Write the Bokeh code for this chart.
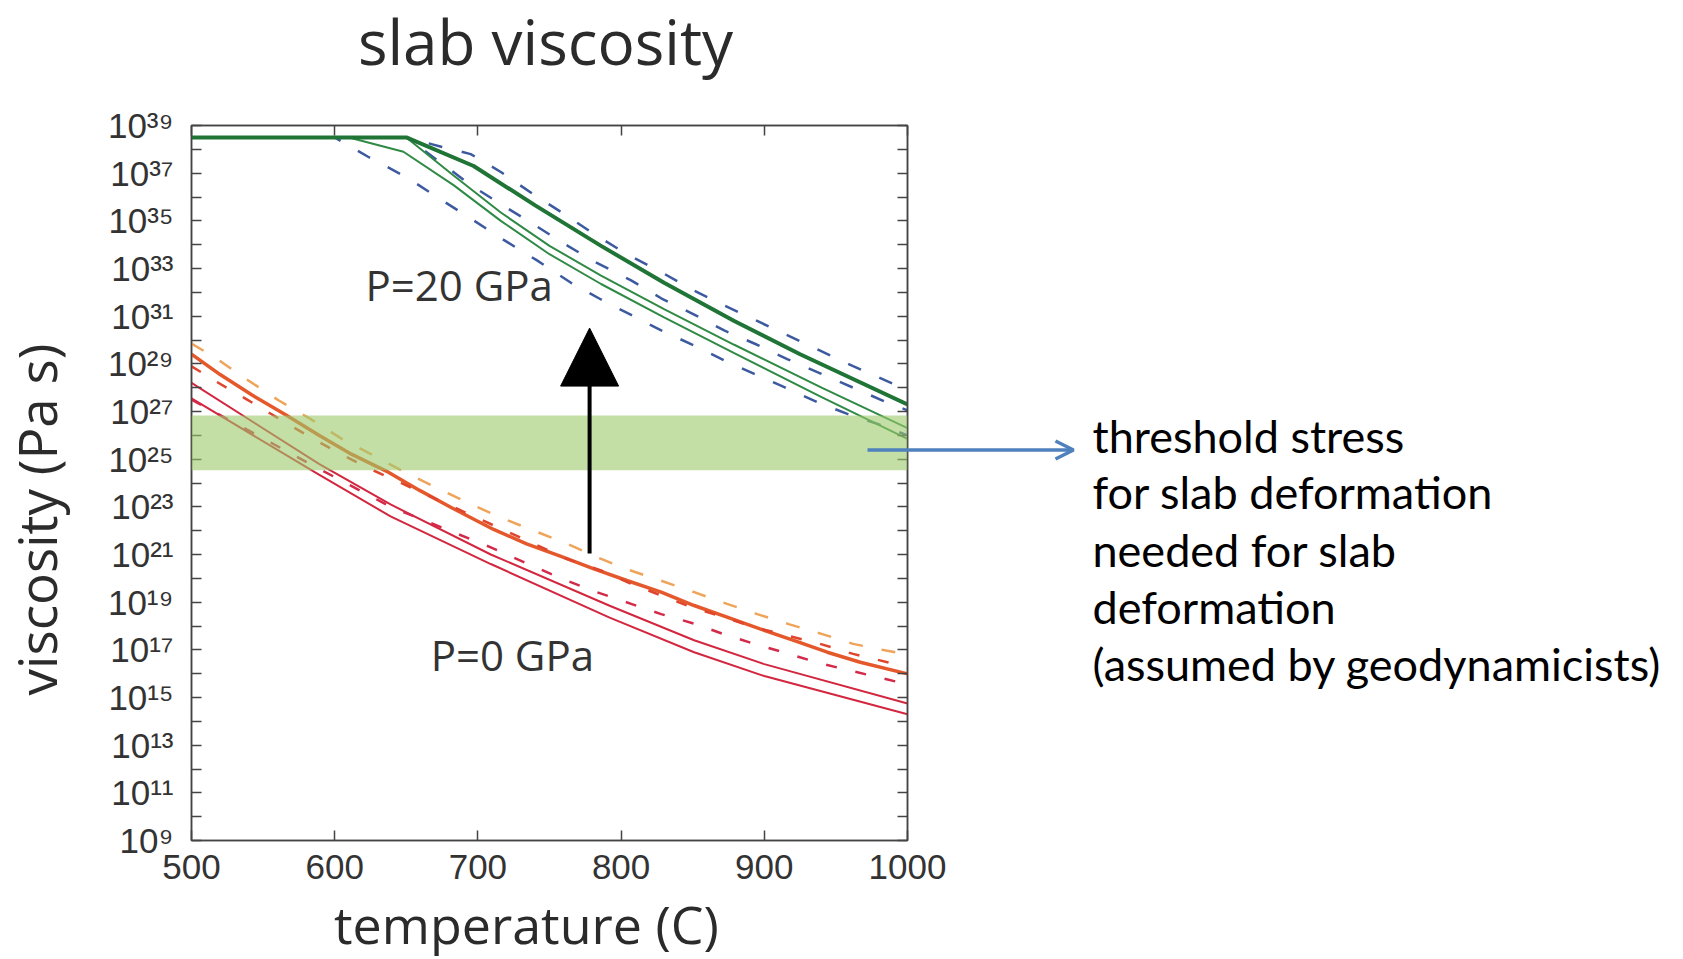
import numpy as np
from bokeh.plotting import figure
from bokeh.layouts import column
from bokeh.models import (FixedTicker, CustomJSTickFormatter, LogAxis, LinearAxis,
                          BoxAnnotation, Arrow, NormalHead, OpenHead, Label, Range1d)
from bokeh.embed import file_html
from bokeh.resources import INLINE

# ---------------- data (temperature in C, log10 viscosity in Pa s) ----------------
# P = 20 GPa group
g1_T = [500, 650, 697, 740, 786, 830, 879, 925, 1000]
g1_E = [38.5, 38.5, 37.3, 35.65, 33.95, 32.4, 30.8, 29.4, 27.3]
g2_T = [500, 650, 683, 716, 750, 786, 830, 879, 940, 1000]
g2_E = [38.5, 38.5, 36.9, 35.35, 33.95, 32.7, 31.3, 29.8, 28.0, 26.3]
g3_T = [500, 610, 648, 683, 716, 750, 786, 830, 879, 940, 1000]
g3_E = [38.5, 38.5, 37.9, 36.5, 35.0, 33.6, 32.35, 30.95, 29.45, 27.6, 25.85]
b1_T = [500, 650, 675, 695, 716, 739, 760, 781, 804, 828, 850, 872, 895, 916, 939, 962, 983, 1000]
b1_E = [38.5, 38.5, 38.1, 37.8, 37.05, 36.1, 35.3, 34.45, 33.6, 32.85, 32.1, 31.45, 30.8, 30.2, 29.55, 28.9, 28.35, 27.9]
b2_T = [500, 650, 675, 695, 716, 739, 760, 781, 807, 828, 850, 872, 895, 916, 939, 962, 983, 1000]
b2_E = [38.5, 38.5, 37.4, 36.5, 35.7, 34.85, 34.05, 33.3, 32.5, 31.75, 31.1, 30.4, 29.8, 29.2, 28.6, 28.0, 27.45, 27.05]
b3_T = [500, 600, 623, 651, 674, 695, 718, 741, 765, 786, 807, 828, 851, 872, 893, 914, 937, 958, 979, 1000]
b3_E = [38.5, 38.5, 37.7, 36.8, 35.9, 35.1, 34.2, 33.35, 32.4, 31.7, 31.05, 30.4, 29.77, 29.14, 28.58, 28.02, 27.39, 26.9, 26.48, 26.0]

# P = 0 GPa group
o1_T = [500, 520, 542, 566, 589, 612, 636, 659, 682, 711, 734, 758, 781, 804, 828, 851, 874, 897, 921, 944, 967, 1000]
o1_E = [29.4, 28.55, 27.7, 26.85, 26.0, 25.2, 24.5, 23.7, 22.95, 22.05, 21.45, 20.92, 20.4, 19.91, 19.42, 18.86, 18.37, 17.88, 17.39, 16.9, 16.48, 15.99]
od1_T = [500, 516, 538, 561, 583, 605, 627, 649, 673, 697, 718, 739, 760, 783, 805, 828, 851, 874, 895, 917, 940, 962, 985, 1000]
od1_E = [29.85, 29.28, 28.37, 27.46, 26.69, 25.85, 25.16, 24.45, 23.75, 23.06, 22.5, 22.0, 21.51, 20.89, 20.36, 19.9, 19.42, 18.93, 18.5, 18.08, 17.67, 17.25, 16.97, 16.8]
rd1_T = [500, 516, 538, 561, 583, 606, 627, 762, 786, 807, 828, 849, 872, 893, 916, 939, 962, 986, 1000]
rd1_E = [28.9, 28.3, 27.53, 26.7, 25.92, 25.16, 24.53, 20.82, 20.33, 19.77, 19.28, 18.79, 18.37, 17.95, 17.6, 17.25, 16.83, 16.48, 16.25]
rd2_T = [500, 589, 639, 709, 737, 758, 783, 807, 828, 851, 872, 893, 916, 938, 962, 983, 1000]
rd2_E = [27.5, 24.6, 23.0, 21.3, 20.55, 20.0, 19.42, 18.93, 18.5, 18.1, 17.65, 17.25, 16.85, 16.45, 16.1, 15.8, 15.55]
r2_T = [500, 589, 639, 709, 792, 851, 900, 1000]
r2_E = [28.2, 24.8, 23.1, 21.0, 18.85, 17.4, 16.4, 14.75]
r3_T = [500, 589, 639, 709, 792, 851, 900, 1000]
r3_E = [27.55, 24.35, 22.6, 20.6, 18.35, 16.9, 15.9, 14.3]

# threshold band (log10 viscosity)
band_low_E = 24.53
band_high_E = 26.83

# axes
x_ticks = [500, 600, 700, 800, 900, 1000]
y_major_E = list(range(9, 40, 2))
y_minor_E = list(range(10, 39, 2))

# text
title_text = "slab viscosity"
x_title = "temperature (C)"
y_title = "viscosity (Pa s)"
label_p20 = "P=20 GPa"
label_p0 = "P=0 GPa"
note_lines = ["threshold stress", "for slab deformation", "needed for slab",
              "deformation", "(assumed by geodynamicists)"]

# annotation anchors inside the axes (data coordinates)
arrow_T, arrow_from_E, arrow_to_E = 778, 21.04, 30.5
p20_pos = (621.5, 32.33)
p0_pos = (667, 16.8)

# annotation anchors on the page (pixel coordinates, from top-left)
W, H = 1683, 959
title_xy = (545, 40)
xtitle_xy = (526, 923)
ytitle_xy = (36, 519)
band_arrow = (867, 1073, 449.5)
note_x = 1092
note_y = [435, 491, 549, 606, 663]

# ---------------- main figure ----------------
p = figure(width=W, height=H, x_range=Range1d(500, 1000), y_range=Range1d(1e9, 1e39),
           y_axis_type="log", output_backend="svg", toolbar_location=None, title=None,
           min_border_left=191, min_border_right=776, min_border_top=125, min_border_bottom=119)
p.background_fill_color = "white"
p.border_fill_color = "white"
p.xgrid.grid_line_color = None
p.ygrid.grid_line_color = None
p.outline_line_color = "#444444"
p.outline_line_width = 1.5

tick_font = "Liberation Sans"
sup_fmt = CustomJSTickFormatter(code="""
const sup = ["\\u2070","\\u00b9","\\u00b2","\\u00b3","\\u2074","\\u2075","\\u2076","\\u2077","\\u2078","\\u2079"];
const e = Math.round(Math.log10(tick));
return "10" + String(e).split("").map((c) => sup[+c]).join("");
""")
blank = CustomJSTickFormatter(code="return '';")

def style_axis(ax, size="35px"):
    ax.axis_line_color = "#444444"
    ax.axis_line_width = 1.5
    ax.major_tick_line_color = "#444444"
    ax.major_tick_line_width = 1.5
    ax.major_tick_in = 10
    ax.major_tick_out = 0
    ax.minor_tick_line_color = "#444444"
    ax.minor_tick_line_width = 1.5
    ax.minor_tick_in = 10
    ax.minor_tick_out = 0
    ax.major_label_text_font = tick_font
    ax.major_label_text_font_size = size
    ax.major_label_text_color = "#333333"

def y_ticker():
    return FixedTicker(ticks=[10.0 ** e for e in y_major_E], minor_ticks=[10.0 ** e for e in y_minor_E])

xa = p.xaxis[0]
xa.ticker = FixedTicker(ticks=x_ticks)
style_axis(xa)
xa.major_label_standoff = 14

ya = p.yaxis[0]
ya.ticker = y_ticker()
ya.formatter = sup_fmt
style_axis(ya)
ya.major_label_standoff = 18

top = LinearAxis(ticker=FixedTicker(ticks=x_ticks), formatter=blank)
style_axis(top, "1px")
top.major_label_standoff = 0
p.add_layout(top, "above")
right = LogAxis(ticker=y_ticker(), formatter=blank)
style_axis(right, "1px")
right.major_label_standoff = 0
p.add_layout(right, "right")

# ---------------- curves ----------------
blue = "#3d5aa0"
series = [
    (b1_T, b1_E, blue, 2.5, "14 20"),
    (b2_T, b2_E, blue, 2.5, "14 20"),
    (b3_T, b3_E, blue, 2.5, "14 20"),
    (g3_T, g3_E, "#2f8a45", 2.0, "solid"),
    (g2_T, g2_E, "#2f8a45", 2.0, "solid"),
    (g1_T, g1_E, "#1f7436", 4.0, "solid"),
    (r3_T, r3_E, "#d3263f", 2.0, "solid"),
    (r2_T, r2_E, "#d3263f", 2.0, "solid"),
    (rd2_T, rd2_E, "#d42a4a", 2.5, "11 19"),
    (od1_T, od1_E, "#efa45a", 2.5, "14 19"),
    (o1_T, o1_E, "#e5582b", 3.5, "solid"),
    (rd1_T, rd1_E, "#e0452e", 2.5, "11 19"),
]
for T, E, color, w, dash in series:
    p.line(T, 10.0 ** np.array(E), line_color=color, line_width=w, line_dash=dash)

# threshold band (semi-transparent, over the curves)
p.add_layout(BoxAnnotation(bottom=10.0 ** band_low_E, top=10.0 ** band_high_E,
                           fill_color="#9dca6b", fill_alpha=0.6, line_alpha=0))

# black arrow
p.add_layout(Arrow(x_start=arrow_T, y_start=10.0 ** arrow_from_E, x_end=arrow_T, y_end=10.0 ** arrow_to_E,
                   line_color="black", line_width=4,
                   end=NormalHead(size=58, fill_color="black", line_color="black")))

def add_label(fig, x, y, text, size, font="Open Sans", color="#333333", align="left", angle=0.0):
    fig.add_layout(Label(x=x, y=y, text=text, text_font=font, text_font_size=size,
                         text_align=align, text_baseline="middle", text_color=color, angle=angle))

add_label(p, p20_pos[0], 10.0 ** p20_pos[1], label_p20, "42px")
add_label(p, p0_pos[0], 10.0 ** p0_pos[1], label_p0, "42px")

# ---------------- transparent page overlay for texts outside the axes ----------------
o = figure(width=W, height=H, x_range=Range1d(0, W), y_range=Range1d(H, 0), title=None,
           x_axis_location=None, y_axis_location=None, output_backend="svg", toolbar_location=None,
           min_border_left=0, min_border_right=0, min_border_top=0, min_border_bottom=0)
o.xgrid.grid_line_color = None
o.ygrid.grid_line_color = None
o.outline_line_color = None
o.background_fill_alpha = 0
o.border_fill_alpha = 0
o.margin = (-H, 0, 0, 0)

for f in (p, o):
    try:
        f.frame_align = False
    except AttributeError:
        pass

add_label(o, title_xy[0], title_xy[1], title_text, "62px", color="#2b2b2b", align="center")
add_label(o, xtitle_xy[0], xtitle_xy[1], x_title, "52px", color="#2b2b2b", align="center")
add_label(o, ytitle_xy[0], ytitle_xy[1], y_title, "53px", color="#2b2b2b", align="center", angle=np.pi / 2)

arrow_blue = "#4f81bd"
o.add_layout(Arrow(x_start=band_arrow[0], y_start=band_arrow[2], x_end=band_arrow[1], y_end=band_arrow[2],
                   line_color=arrow_blue, line_width=3.5,
                   end=OpenHead(size=18, line_color=arrow_blue, line_width=3.5)))
for y, line in zip(note_y, note_lines):
    add_label(o, note_x, y, line, "45px", font="Lato", color="black")

layout = column(p, o)
open("out.html", "w", encoding="utf-8").write(file_html(layout, INLINE))
